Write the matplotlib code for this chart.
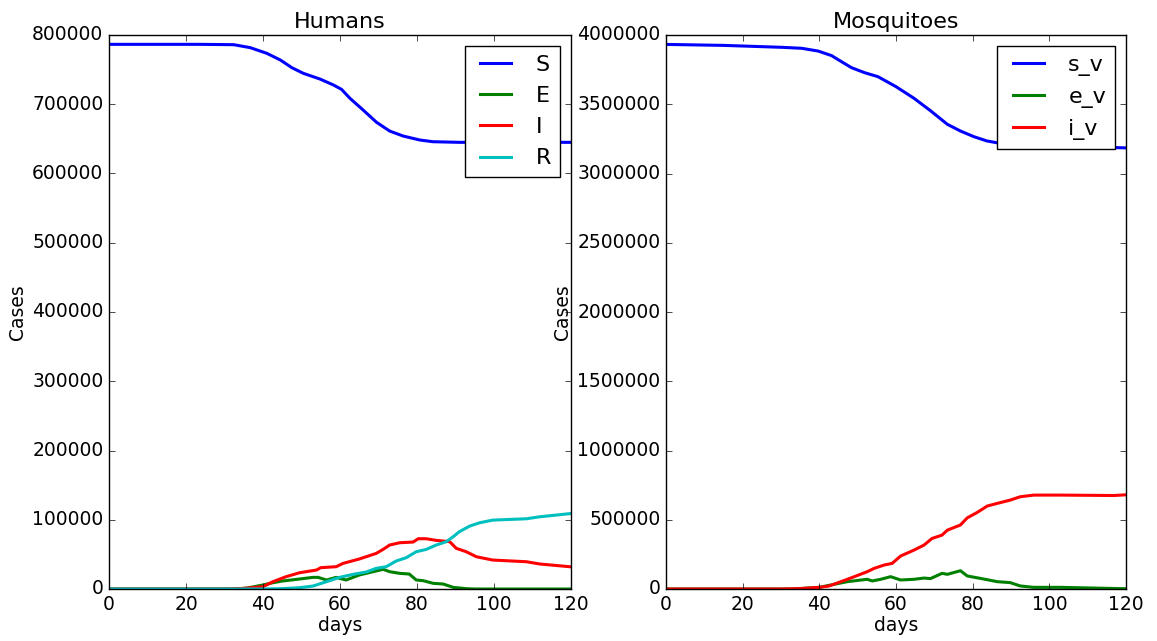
import matplotlib
matplotlib.use("Agg")
import matplotlib.pyplot as plt

# ---- Humans ----
S_days = [0, 20, 23.8, 32.4, 36.7, 41, 44.5, 47.5, 50.5, 54.8, 58.3, 60.4, 62.6, 66, 69.5,
          72.9, 76.4, 80.7, 84.1, 91, 120]
S_vals = [786500, 786500, 786500, 786000, 781700, 773500, 763900, 752800, 744600, 736400,
          727800, 721500, 708500, 691700, 673900, 661300, 654100, 648400, 645900, 645000, 645000]

E_days = [0, 33, 36, 40, 42.6, 45, 48.7, 53, 54.3, 56.5, 59, 60.5, 61.6, 65, 68.6, 71.2,
          72.9, 75.5, 78, 79.8, 81.6, 84.2, 86.8, 89.4, 92.8, 95, 120]
E_vals = [0, 0, 1500, 5800, 9100, 11500, 13900, 16800, 16800, 13000, 16800, 14500, 13000,
          20200, 25000, 28400, 25000, 22600, 21600, 13000, 12000, 8200, 7200, 2400, 500, 0, 0]

I_days = [0, 30, 35, 40, 42.6, 46, 49.5, 53.9, 55, 59, 60.8, 65, 69.4, 71.2, 72.9, 75.5, 79,
          80.3, 82.4, 85, 88.5, 90.2, 92.8, 95.4, 99.7, 108.4, 111.9, 120]
I_vals = [0, 0, 800, 3400, 10600, 17800, 23500, 27400, 30800, 32200, 37000, 43300, 51400,
          57200, 63500, 66800, 67800, 72600, 72600, 70200, 68300, 58700, 53800, 46600, 41800,
          39400, 36100, 32000]

R_days = [0, 40, 45, 49.5, 53, 56.5, 59.9, 63.4, 66.8, 69.4, 72, 74.6, 77.2, 79.8, 82.4, 85,
          87.6, 89.4, 91, 93.7, 96.3, 99.7, 108.4, 111.9, 120]
R_vals = [0, 0, 500, 1900, 4300, 10600, 16800, 21200, 24500, 29800, 32200, 40400, 45200,
          53800, 57200, 63500, 68300, 75500, 82700, 90900, 95700, 99500, 101400, 104300, 109000]

# ---- Mosquitoes ----
sv_days = [0, 15, 30.3, 35.4, 39.7, 43.2, 45.8, 48.4, 51.8, 55.3, 60, 64.7, 69.1, 73.4, 76.8,
           80.3, 83.7, 86.3, 92, 100, 110, 120]
sv_vals = [3932000, 3925000, 3911000, 3904000, 3884000, 3851000, 3807000, 3764000, 3728000,
           3699000, 3627000, 3543000, 3451000, 3355000, 3307000, 3266000, 3235000, 3222000,
           3210000, 3200000, 3192000, 3185000]

ev_days = [0, 33, 40, 47.3, 52.5, 53.8, 56, 58.6, 61.2, 64.7, 67.3, 69, 72, 73.4, 76.8, 78.6,
           82.9, 86.4, 89.8, 92.4, 95.9, 103, 120]
ev_vals = [0, 0, 12000, 53000, 70000, 58000, 70000, 89000, 65000, 70000, 79000, 75000, 113000,
           106000, 132000, 94000, 72000, 53000, 46000, 22000, 12000, 12000, 2000]

iv_days = [0, 30, 35, 40, 42.5, 47.3, 52.5, 54.3, 56.9, 59, 61.2, 64.7, 67.3, 69.4, 72, 73.4,
           76.8, 78.6, 81.2, 83.8, 86.4, 89.8, 92.4, 95.9, 103, 116.8, 120]
iv_vals = [0, 0, 3000, 12000, 21600, 69700, 125000, 149000, 173000, 185000, 238000, 281000,
           317000, 365000, 389000, 425000, 462000, 514000, 553000, 599000, 618000, 642000,
           666000, 678000, 678000, 675000, 680000]

human_ticks = list(range(0, 800001, 100000))
mosq_ticks = list(range(0, 4000001, 500000))
x_ticks = [0, 20, 40, 60, 80, 100, 120]

plt.style.use("classic")
plt.rcParams["font.size"] = 13.5

fig = plt.figure(figsize=(11.57, 6.41), dpi=100, facecolor="white")
ax1 = fig.add_axes([109 / 1157, 52 / 641, 462 / 1157, 554 / 641])
ax2 = fig.add_axes([666 / 1157, 52 / 641, 460 / 1157, 554 / 641])

lw = 2.2
ax1.plot(S_days, S_vals, color="b", lw=lw, label="S")
ax1.plot(E_days, E_vals, color="g", lw=lw, label="E")
ax1.plot(I_days, I_vals, color="r", lw=lw, label="I")
ax1.plot(R_days, R_vals, color="c", lw=lw, label="R")
ax1.set_xlim(0, 120)
ax1.set_ylim(0, 800000)
ax1.set_yticks(human_ticks)
ax1.set_yticklabels([str(t) for t in human_ticks])
ax1.set_xticks(x_ticks)
ax1.set_title("Humans", fontsize=16)
ax1.set_xlabel("days")
ax1.set_ylabel("Cases")
ax1.legend(loc="upper right", fontsize=16)

ax2.plot(sv_days, sv_vals, color="b", lw=lw, label="s_v")
ax2.plot(ev_days, ev_vals, color="g", lw=lw, label="e_v")
ax2.plot(iv_days, iv_vals, color="r", lw=lw, label="i_v")
ax2.set_xlim(0, 120)
ax2.set_ylim(0, 4000000)
ax2.set_yticks(mosq_ticks)
ax2.set_yticklabels([str(t) for t in mosq_ticks])
ax2.set_xticks(x_ticks)
ax2.set_title("Mosquitoes", fontsize=16)
ax2.set_xlabel("days")
ax2.set_ylabel("Cases")
ax2.legend(loc="upper right", fontsize=16)

for ax in (ax1, ax2):
    ax.xaxis.labelpad = 2
    ax.yaxis.labelpad = 4

fig.savefig("out.png", dpi=100, facecolor="white")
